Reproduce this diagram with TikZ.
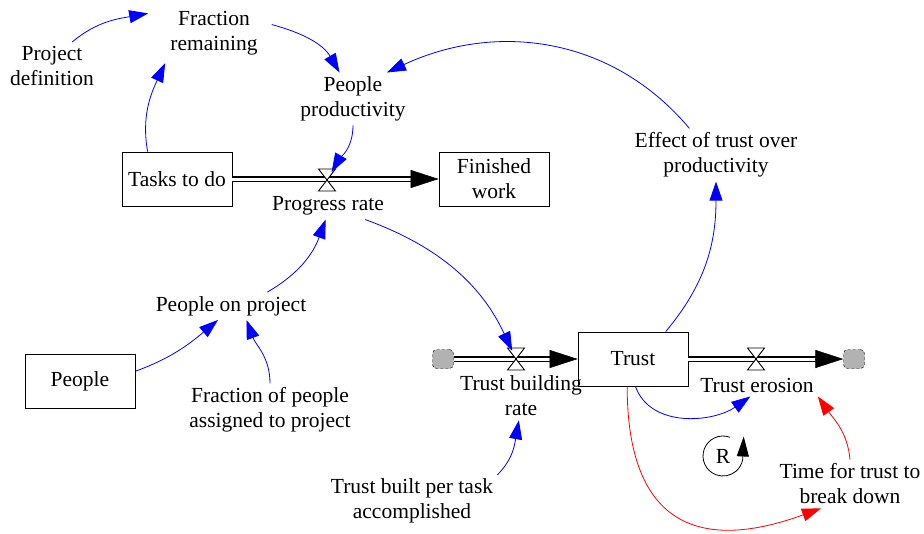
\documentclass[tikz,border=0pt]{standalone}
\usepackage{fontspec}
\setmainfont{Liberation Serif}
\usetikzlibrary{arrows.meta,calc}

\begin{document}
\begin{tikzpicture}[x=1pt,y=-1pt,>={Triangle[length=19pt,width=13pt]},
                    link/.style={->,blue,line width=0.8pt},
                    redlink/.style={link,red},
                    var/.style={align=center,inner sep=4pt,font=\fontsize{21.5}{25}\selectfont},
                    stock/.style={var,draw,minimum width=110pt,minimum height=54pt,line width=0.8pt},
                    pipe/.style={double=white,double distance=3pt,line width=1.2pt,shorten >=26pt},
                    pipehead/.style={-{Triangle[length=28pt,width=18pt]},line width=0.5pt},
                    valve/.style={draw,fill=white,line width=0.9pt},
                    sourcesink/.style={draw,densely dashed,fill=gray!60,rounded corners=4pt,
                                       minimum width=21pt,minimum height=19pt,inner sep=0pt}]
  \useasboundingbox (0,0) rectangle (924,533);

  % stocks
  \node[stock] (tasks)  at (177,179) {Tasks to do};
  \node[stock] (done)   at (494,179) {Finished\\work};
  \node[stock] (people) at (80,381)  {People};
  \node[stock] (trust)  at (633,359) {Trust};

  % variables
  \node[var] (projdef)    at (52,66)   {Project\\definition};
  \node[var] (fracrem)    at (214,33)  {Fraction\\remaining};
  \node[var] (peoprod)    at (353,99)  {People\\productivity};
  \node[var] (progress)   at (328,206) {Progress rate};
  \node[var] (effect)     at (716,155) {Effect of trust over\\productivity};
  \node[var] (peopleon)   at (231,306) {People on project};
  \node[var] (fracpeople) at (270,410) {Fraction of people\\assigned to project};
  \node[var] (tbrate)     at (521,396) {Trust building\\rate};
  \node[var] (terosion)   at (757,385) {Trust erosion};
  \node[var] (tbuilt)     at (412,501) {Trust built per task\\accomplished};
  \node[var] (timetrust)  at (850,484) {Time for trust to\\break down};
  \node[var] (loopR)      at (723,456) {R};

  % clouds and valves
  \node[sourcesink] (srcL)  at (443,359) {};
  \node[sourcesink] (sinkR) at (854,359) {};
  \coordinate (pv) at (327,180);
  \coordinate (bv) at (516,359);
  \coordinate (ev) at (756,359);

  % flows
  \draw[pipe] (tasks.east) -- (done.west);
  \draw[pipehead] ([xshift=-28pt]done.west) -- (done.west);
  \draw[pipe] (srcL.east) -- (trust.west);
  \draw[pipehead] ([xshift=-28pt]trust.west) -- (trust.west);
  \draw[pipe] (trust.east) -- (sinkR.west);
  \draw[pipehead] ([xshift=-28pt]sinkR.west) -- (sinkR.west);
  \foreach \v in {pv,bv,ev}
    \draw[valve] ([shift={(-8.5pt,11pt)}]\v) -- ([shift={(8.5pt,11pt)}]\v)
                 -- ([shift={(-8.5pt,-11pt)}]\v) -- ([shift={(8.5pt,-11pt)}]\v) -- cycle;

  % causal links
  \draw[link] (projdef.50) to[out=40,in=190] ([shift={(-18pt,5pt)}]fracrem.163);
  \draw[link] (tasks.137) to[out=100,in=245] ([shift={(-7pt,-4pt)}]fracrem.212);
  \draw[link] ([xshift=10pt]fracrem.10) to[out=-15,in=120] (peoprod.117);
  \draw[link,shorten >=9pt] (peoprod.south) to[out=-90,in=60] (pv);
  \draw[link] (effect.135) to[out=130,in=25] (peoprod.38);
  \draw[link] (trust.40) to[out=50,in=-90] (effect.south);
  \draw[link] (people.10) to[out=20,in=220] (peopleon.227);
  \draw[link] (fracpeople.north) to[out=90,in=290] (peopleon.318);
  \draw[link] (peopleon.21) to[out=30,in=250] (progress.260);
  \draw[link,shorten >=9pt] (progress.340) to[out=-20,in=115] (bv);
  \draw[link] (tbuilt.17) to[out=45,in=260] (tbrate.265);
  \draw[link] (trust.275) to[out=-70,in=215] (terosion.240);
  \draw[redlink] (trust.258) to[out=-90,in=200,looseness=1.5] (timetrust.220);
  \draw[redlink] (timetrust.north) to[out=95,in=305] (terosion.south east);

  % loop marker
  \draw[line width=0.8pt,-{Triangle[length=20pt,width=12pt]}]
    ([shift={(-70:20)}]loopR.center) arc[start angle=-70,end angle=-350,radius=20] -- ++(1,-23);
\end{tikzpicture}
\end{document}
